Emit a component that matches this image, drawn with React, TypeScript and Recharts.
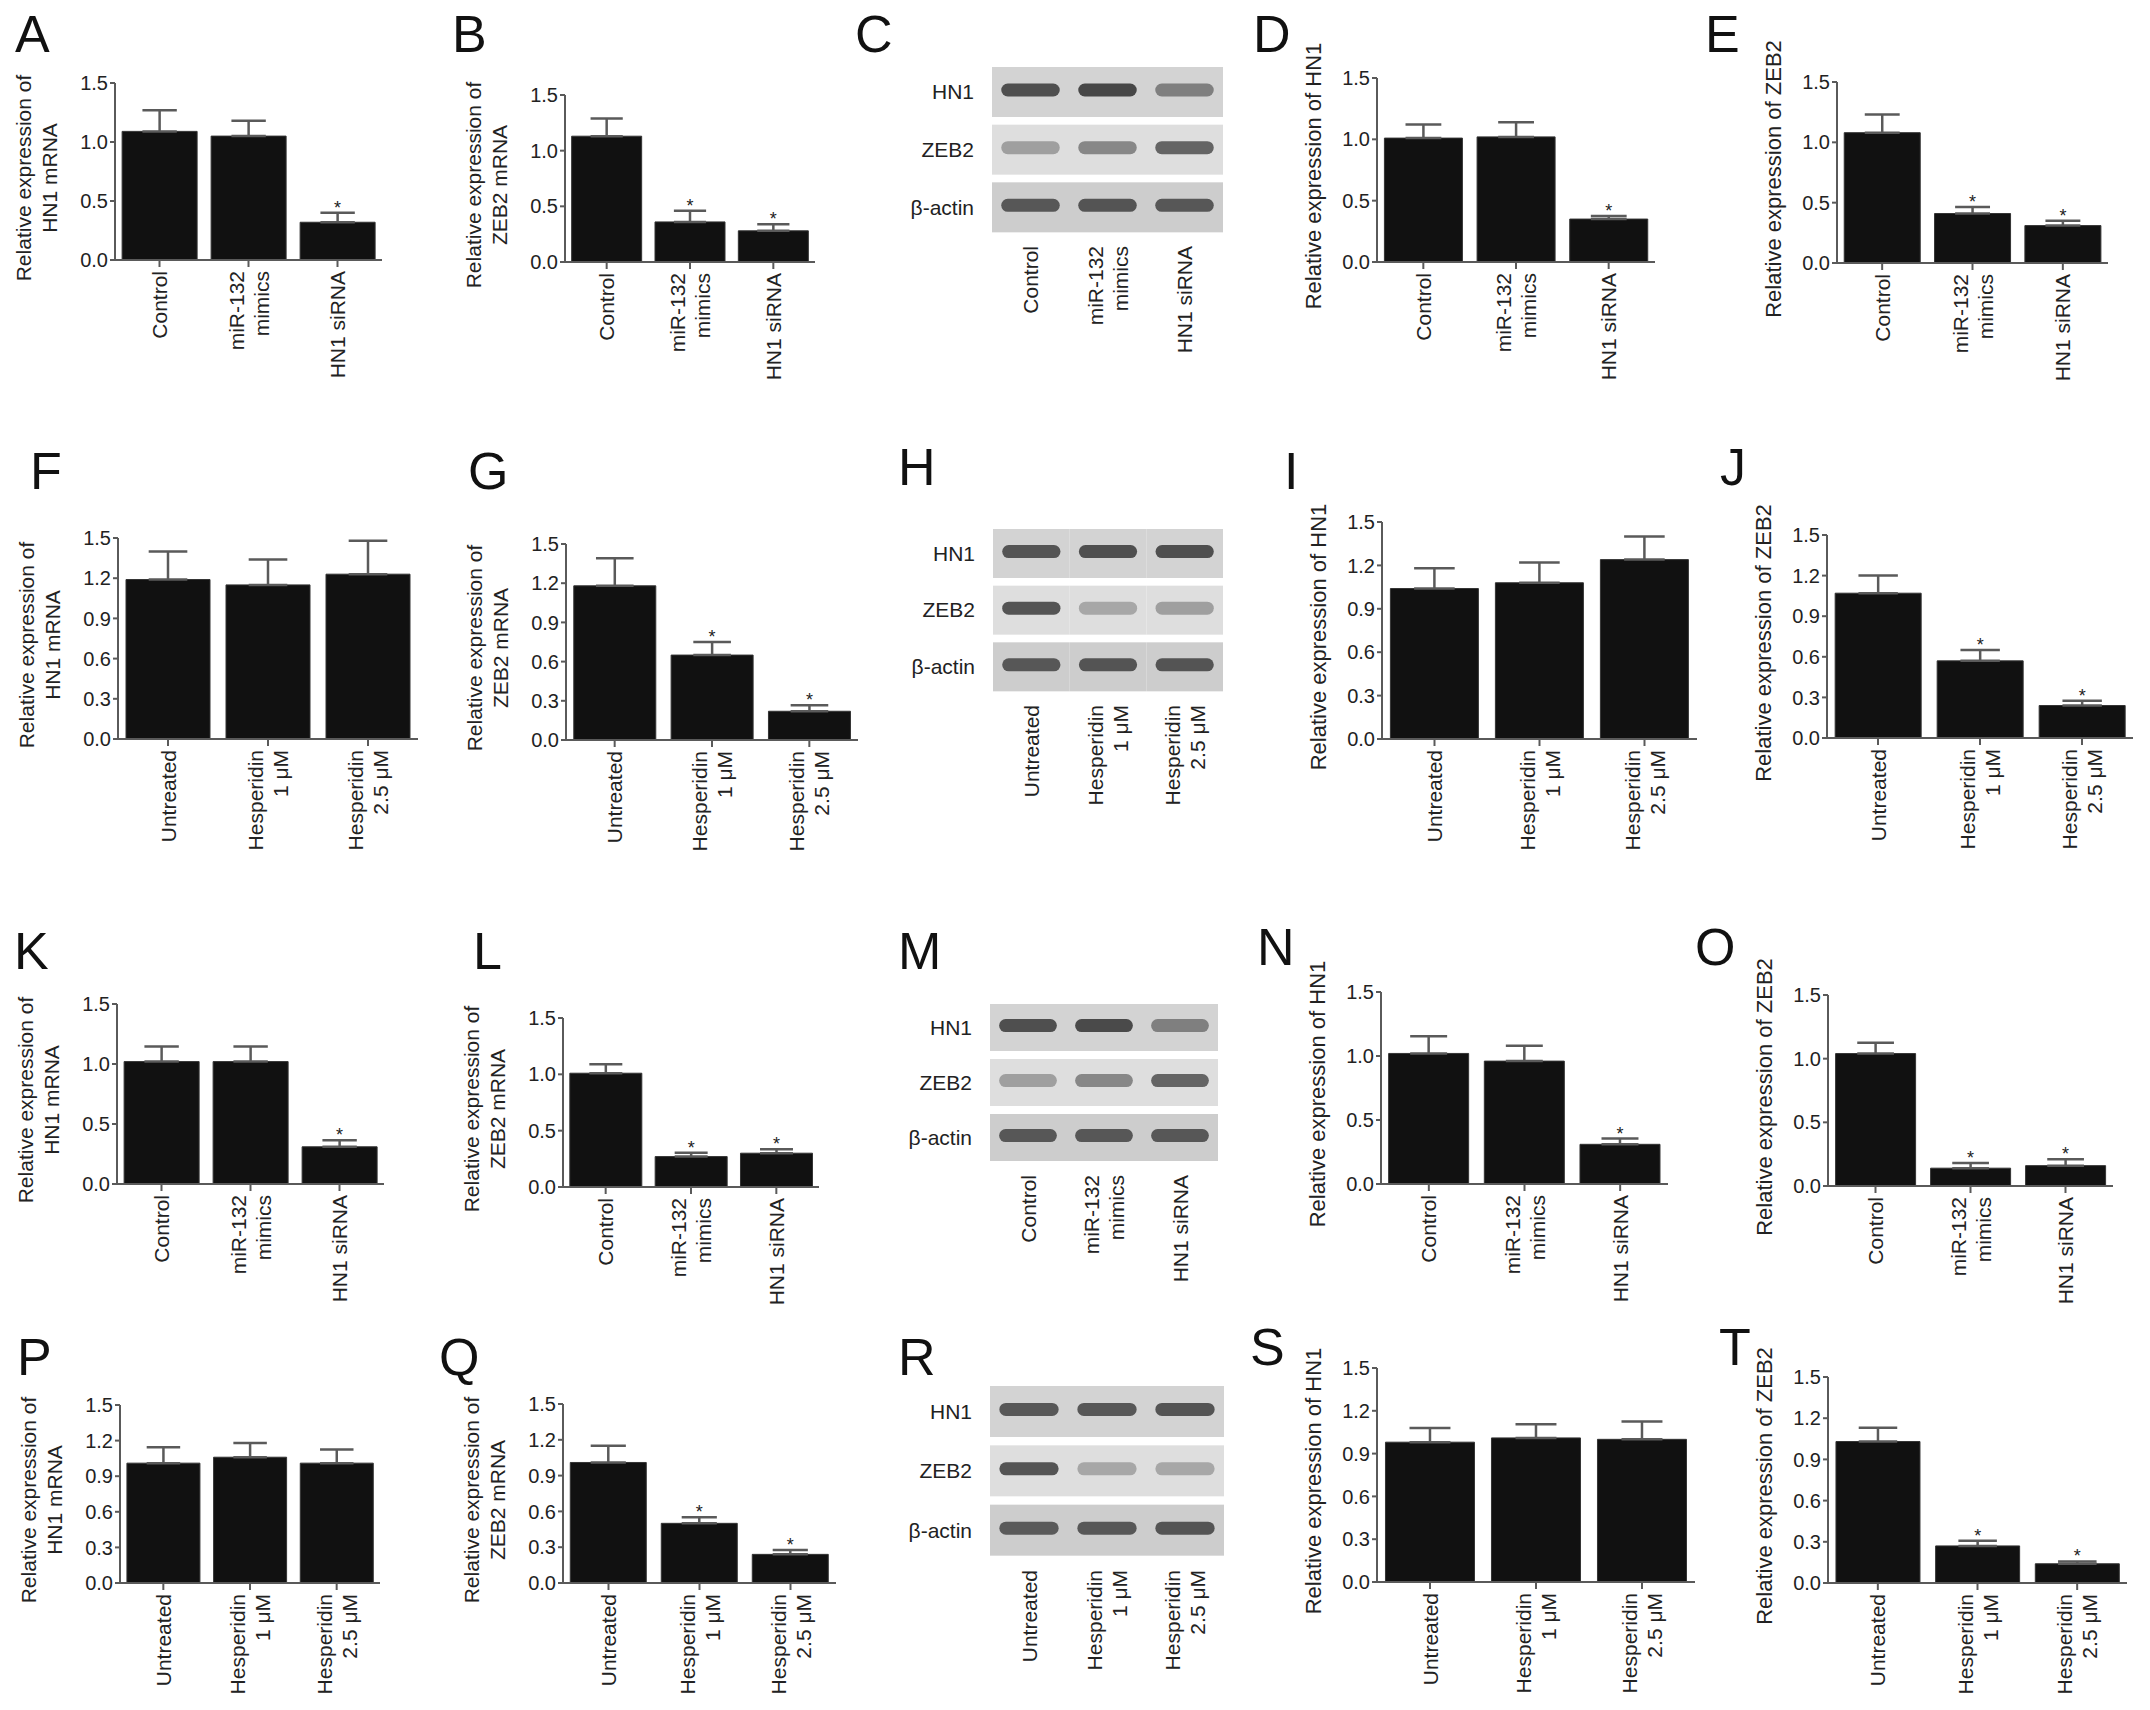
import React from 'react';
import { BarChart, Bar, XAxis, YAxis, ErrorBar, LabelList } from 'recharts';

const FONT = '"Liberation Sans", Arial, Helvetica, sans-serif';
const INK = '#222';
const AXIS = '#5a5a5a';

// ---- categories / ticks ----
const SI_GROUPS = ['Control', 'miR-132\nmimics', 'HN1 siRNA'];
const HES_GROUPS = ['Untreated', 'Hesperidin\n1 μM', 'Hesperidin\n2.5 μM'];
const TICKS_05 = [0, 0.5, 1.0, 1.5];
const TICKS_03 = [0, 0.3, 0.6, 0.9, 1.2, 1.5];
const PROTEINS = ['HN1', 'ZEB2', 'β-actin'];

// ---- bar values (mean), upper error, significance ----
const A_MEAN = [1.09, 1.05, 0.32]; const A_ERR = [0.18, 0.13, 0.08]; const A_SIG = [0, 0, 1];
const B_MEAN = [1.13, 0.36, 0.28]; const B_ERR = [0.16, 0.10, 0.06]; const B_SIG = [0, 1, 1];
const D_MEAN = [1.01, 1.02, 0.35]; const D_ERR = [0.11, 0.12, 0.025]; const D_SIG = [0, 0, 1];
const E_MEAN = [1.08, 0.41, 0.31]; const E_ERR = [0.15, 0.055, 0.04]; const E_SIG = [0, 1, 1];
const F_MEAN = [1.19, 1.15, 1.23]; const F_ERR = [0.21, 0.19, 0.25]; const F_SIG = [0, 0, 0];
const G_MEAN = [1.18, 0.65, 0.22]; const G_ERR = [0.21, 0.10, 0.045]; const G_SIG = [0, 1, 1];
const I_MEAN = [1.04, 1.08, 1.24]; const I_ERR = [0.14, 0.14, 0.16]; const I_SIG = [0, 0, 0];
const J_MEAN = [1.07, 0.57, 0.24]; const J_ERR = [0.13, 0.08, 0.035]; const J_SIG = [0, 1, 1];
const K_MEAN = [1.02, 1.02, 0.31]; const K_ERR = [0.125, 0.125, 0.055]; const K_SIG = [0, 0, 1];
const L_MEAN = [1.01, 0.27, 0.30]; const L_ERR = [0.08, 0.035, 0.035]; const L_SIG = [0, 1, 1];
const N_MEAN = [1.02, 0.96, 0.31]; const N_ERR = [0.135, 0.12, 0.045]; const N_SIG = [0, 0, 1];
const O_MEAN = [1.04, 0.14, 0.16]; const O_ERR = [0.085, 0.04, 0.05]; const O_SIG = [0, 1, 1];
const P_MEAN = [1.01, 1.06, 1.01]; const P_ERR = [0.135, 0.12, 0.115]; const P_SIG = [0, 0, 0];
const Q_MEAN = [1.01, 0.50, 0.24]; const Q_ERR = [0.14, 0.05, 0.036]; const Q_SIG = [0, 1, 1];
const S_MEAN = [0.98, 1.01, 1.00]; const S_ERR = [0.10, 0.095, 0.125]; const S_SIG = [0, 0, 0];
const T_MEAN = [1.03, 0.27, 0.14]; const T_ERR = [0.10, 0.037, 0.017]; const T_SIG = [0, 1, 1];

// ---- blot band intensities (0 = none, 1 = black) per lane ----
const C_BANDS = { HN1: [0.85, 0.9, 0.55], ZEB2: [0.35, 0.5, 0.72], 'β-actin': [0.8, 0.82, 0.8] };
const H_BANDS = { HN1: [0.82, 0.85, 0.85], ZEB2: [0.82, 0.3, 0.35], 'β-actin': [0.8, 0.82, 0.82] };
const M_BANDS = { HN1: [0.85, 0.88, 0.55], ZEB2: [0.35, 0.5, 0.72], 'β-actin': [0.8, 0.8, 0.8] };
const R_BANDS = { HN1: [0.8, 0.8, 0.82], ZEB2: [0.82, 0.3, 0.3], 'β-actin': [0.78, 0.8, 0.82] };

const STRIP_BG = { HN1: '#d3d3d3', ZEB2: '#dedede', 'β-actin': '#cdcdcd' };

function rows(groups, mean, err, sig) {
  return groups.map((g, i) => ({ group: g, value: mean[i], err: [0, err[i]], up: err[i], star: sig[i] === 1 }));
}

function blotRows(bands) {
  return PROTEINS.map((p) => ({ protein: p, w0: 1, w1: 1, w2: 1, i0: bands[p][0], i1: bands[p][1], i2: bands[p][2] }));
}

const MRNA_HN1 = ['Relative expression of', 'HN1 mRNA'];
const MRNA_ZEB2 = ['Relative expression of', 'ZEB2 mRNA'];
const PROT_HN1 = ['Relative expression of HN1'];
const PROT_ZEB2 = ['Relative expression of ZEB2'];

const BAR_PANELS = [
  { id: 'A', data: rows(SI_GROUPS, A_MEAN, A_ERR, A_SIG), ticks: TICKS_05, title: MRNA_HN1, axisX: 115, top: 83, bottom: 260, right: 382 },
  { id: 'B', data: rows(SI_GROUPS, B_MEAN, B_ERR, B_SIG), ticks: TICKS_05, title: MRNA_ZEB2, axisX: 565, top: 95, bottom: 262, right: 815 },
  { id: 'D', data: rows(SI_GROUPS, D_MEAN, D_ERR, D_SIG), ticks: TICKS_05, title: PROT_HN1, axisX: 1377, top: 78, bottom: 262, right: 1655 },
  { id: 'E', data: rows(SI_GROUPS, E_MEAN, E_ERR, E_SIG), ticks: TICKS_05, title: PROT_ZEB2, axisX: 1837, top: 82, bottom: 263, right: 2108 },
  { id: 'F', data: rows(HES_GROUPS, F_MEAN, F_ERR, F_SIG), ticks: TICKS_03, title: MRNA_HN1, axisX: 118, top: 538, bottom: 739, right: 418 },
  { id: 'G', data: rows(HES_GROUPS, G_MEAN, G_ERR, G_SIG), ticks: TICKS_03, title: MRNA_ZEB2, axisX: 566, top: 544, bottom: 740, right: 858 },
  { id: 'I', data: rows(HES_GROUPS, I_MEAN, I_ERR, I_SIG), ticks: TICKS_03, title: PROT_HN1, axisX: 1382, top: 522, bottom: 739, right: 1697 },
  { id: 'J', data: rows(HES_GROUPS, J_MEAN, J_ERR, J_SIG), ticks: TICKS_03, title: PROT_ZEB2, axisX: 1827, top: 535, bottom: 738, right: 2133 },
  { id: 'K', data: rows(SI_GROUPS, K_MEAN, K_ERR, K_SIG), ticks: TICKS_05, title: MRNA_HN1, axisX: 117, top: 1004, bottom: 1184, right: 384 },
  { id: 'L', data: rows(SI_GROUPS, L_MEAN, L_ERR, L_SIG), ticks: TICKS_05, title: MRNA_ZEB2, axisX: 563, top: 1018, bottom: 1187, right: 819 },
  { id: 'N', data: rows(SI_GROUPS, N_MEAN, N_ERR, N_SIG), ticks: TICKS_05, title: PROT_HN1, axisX: 1381, top: 992, bottom: 1184, right: 1668 },
  { id: 'O', data: rows(SI_GROUPS, O_MEAN, O_ERR, O_SIG), ticks: TICKS_05, title: PROT_ZEB2, axisX: 1828, top: 995, bottom: 1186, right: 2113 },
  { id: 'P', data: rows(HES_GROUPS, P_MEAN, P_ERR, P_SIG), ticks: TICKS_03, title: MRNA_HN1, axisX: 120, top: 1405, bottom: 1583, right: 380 },
  { id: 'Q', data: rows(HES_GROUPS, Q_MEAN, Q_ERR, Q_SIG), ticks: TICKS_03, title: MRNA_ZEB2, axisX: 563, top: 1404, bottom: 1583, right: 836 },
  { id: 'S', data: rows(HES_GROUPS, S_MEAN, S_ERR, S_SIG), ticks: TICKS_03, title: PROT_HN1, axisX: 1377, top: 1368, bottom: 1582, right: 1695 },
  { id: 'T', data: rows(HES_GROUPS, T_MEAN, T_ERR, T_SIG), ticks: TICKS_03, title: PROT_ZEB2, axisX: 1828, top: 1377, bottom: 1583, right: 2127 },
];

const BLOT_PANELS = [
  { id: 'C', rows: blotRows(C_BANDS), lanes: SI_GROUPS, left: 992, right: 1223, top: 63, bottom: 236 },
  { id: 'H', rows: blotRows(H_BANDS), lanes: HES_GROUPS, left: 993, right: 1223, top: 525, bottom: 695 },
  { id: 'M', rows: blotRows(M_BANDS), lanes: SI_GROUPS, left: 990, right: 1218, top: 1000, bottom: 1165 },
  { id: 'R', rows: blotRows(R_BANDS), lanes: HES_GROUPS, left: 990, right: 1224, top: 1382, bottom: 1560 },
];

const LETTERS = [
  ['A', 15, 15], ['B', 452, 15], ['C', 855, 15], ['D', 1253, 15], ['E', 1705, 15],
  ['F', 30, 452], ['G', 468, 452], ['H', 898, 448], ['I', 1284, 452], ['J', 1720, 448],
  ['K', 14, 932], ['L', 473, 932], ['M', 898, 932], ['N', 1257, 928], ['O', 1695, 928],
  ['P', 17, 1338], ['Q', 439, 1338], ['R', 898, 1338], ['S', 1250, 1328], ['T', 1719, 1328],
];

// rotated multi-line category label, text ends just below the axis
function CatTick(props) {
  const { x, y, payload } = props;
  const lines = String(payload.value).split('\n');
  const lh = 25;
  return (
    <g transform={`translate(${x},${y + 2})`}>
      <text transform="rotate(-90)" textAnchor="end" fontSize={21} fill={INK} fontFamily={FONT}>
        {lines.map((ln, i) => (
          <tspan key={i} x={0} y={(i - (lines.length - 1) / 2) * lh} dy="0.36em">{ln}</tspan>
        ))}
      </text>
    </g>
  );
}

function LaneTick(props) {
  const { x, y, payload, names } = props;
  const name = names[Math.floor(payload.value)];
  return <CatTick x={x} y={y + 2} payload={{ value: name }} />;
}

function starLabel(data) {
  return (props) => {
    const vb = props.viewBox || props;
    const idx = props.index;
    const row = data[idx];
    if (!row || !row.star) return null;
    const top = Math.min(vb.y, vb.y + vb.height);
    const h = Math.abs(vb.height);
    const errPx = (row.up / row.value) * h;
    return (
      <text x={vb.x + vb.width / 2} y={top - errPx + 1} textAnchor="middle" fontSize={18} fill={INK} fontFamily={FONT}>*</text>
    );
  };
}

function BarPanel({ p }) {
  const ML = 110;
  const MT = 20;
  const XH = 150;
  const MR = 4;
  const plotW = p.right - p.axisX;
  const plotH = p.bottom - p.top;
  const barW = (plotW / 3) * 0.84;
  const twoLine = p.title.length > 1;
  const cx = p.axisX - (twoLine ? 78 : 63);
  const cy = (p.top + p.bottom) / 2 + 6;
  return (
    <>
      <div style={{ position: 'absolute', left: p.axisX - ML, top: p.top - MT }}>
        <BarChart width={ML + plotW + MR} height={MT + plotH + XH} data={p.data}
          margin={{ top: MT, right: MR, left: 0, bottom: 0 }} barCategoryGap="8%">
          <XAxis dataKey="group" interval={0} height={XH} tickSize={7}
            axisLine={{ stroke: AXIS, strokeWidth: 2 }} tickLine={{ stroke: AXIS, strokeWidth: 2 }}
            tick={<CatTick />} />
          <YAxis width={ML} domain={[0, 1.5]} ticks={p.ticks} interval={0} tickSize={5} tickMargin={2}
            axisLine={{ stroke: AXIS, strokeWidth: 2 }} tickLine={{ stroke: AXIS, strokeWidth: 2 }}
            tickFormatter={(v) => Number(v).toFixed(1)}
            tick={{ fontSize: 20, fill: INK, fontFamily: FONT }} />
          <Bar dataKey="value" fill="#111" stroke="#333" strokeWidth={1} isAnimationActive={false}>
            <ErrorBar dataKey="err" direction="y" width={barW * 0.23} stroke={AXIS} strokeWidth={2.5} isAnimationActive={false} />
            <LabelList dataKey="value" content={starLabel(p.data)} />
          </Bar>
        </BarChart>
      </div>
      <div style={{
        position: 'absolute', left: cx, top: cy, transform: 'translate(-50%, -50%) rotate(-90deg)',
        whiteSpace: 'pre', textAlign: 'center', fontFamily: FONT, fontSize: twoLine ? 21 : 22,
        lineHeight: '26px', color: INK,
      }}>
        {p.title.join('\n')}
      </div>
    </>
  );
}

function grey(intensity) {
  const g = Math.round(215 - intensity * 160);
  return `rgb(${g},${g},${g})`;
}

function LaneCell(props) {
  const { x, y, width, height, payload, lane } = props;
  const it = payload[`i${lane}`];
  const bandH = 13;
  const cy = y + height * 0.46;
  return (
    <g>
      <rect x={x} y={y} width={width} height={height} fill={STRIP_BG[payload.protein]} />
      <rect x={x + width * 0.12} y={cy - bandH / 2} width={width * 0.76} height={bandH} rx={6.5} fill={grey(it)} />
    </g>
  );
}

function BlotPanel({ b }) {
  const LW = 140;
  const XH = 150;
  const w = LW + (b.right - b.left);
  const h = (b.bottom - b.top) + XH;
  return (
    <div style={{ position: 'absolute', left: b.left - LW, top: b.top }}>
      <BarChart layout="vertical" width={w} height={h} data={b.rows}
        margin={{ top: 0, right: 0, left: 0, bottom: 0 }} barCategoryGap={4}>
        <XAxis type="number" domain={[0, 3]} ticks={[0.5, 1.5, 2.5]} height={XH} axisLine={false} tickLine={false}
          tickSize={0} tickMargin={6} tick={<LaneTick names={b.lanes} />} />
        <YAxis type="category" dataKey="protein" width={LW} axisLine={false} tickLine={false} tickMargin={12}
          tick={{ fontSize: 21, fill: INK, fontFamily: FONT }} />
        {[0, 1, 2].map((i) => (
          <Bar key={i} dataKey={`w${i}`} stackId="lanes" isAnimationActive={false}
            shape={(props) => <LaneCell {...props} lane={i} />} />
        ))}
      </BarChart>
    </div>
  );
}

export default function App() {
  return (
    <div style={{ position: 'absolute', left: 0, top: 0, width: 2150, height: 1710, background: '#fff', fontFamily: FONT, overflow: 'hidden' }}>
      {LETTERS.map(([t, x, y]) => (
        <div key={t} style={{ position: 'absolute', left: x, top: y - 7, fontSize: 52, lineHeight: '52px', color: '#111', fontFamily: FONT }}>{t}</div>
      ))}
      {BAR_PANELS.map((p) => <BarPanel key={p.id} p={p} />)}
      {BLOT_PANELS.map((b) => <BlotPanel key={b.id} b={b} />)}
    </div>
  );
}
